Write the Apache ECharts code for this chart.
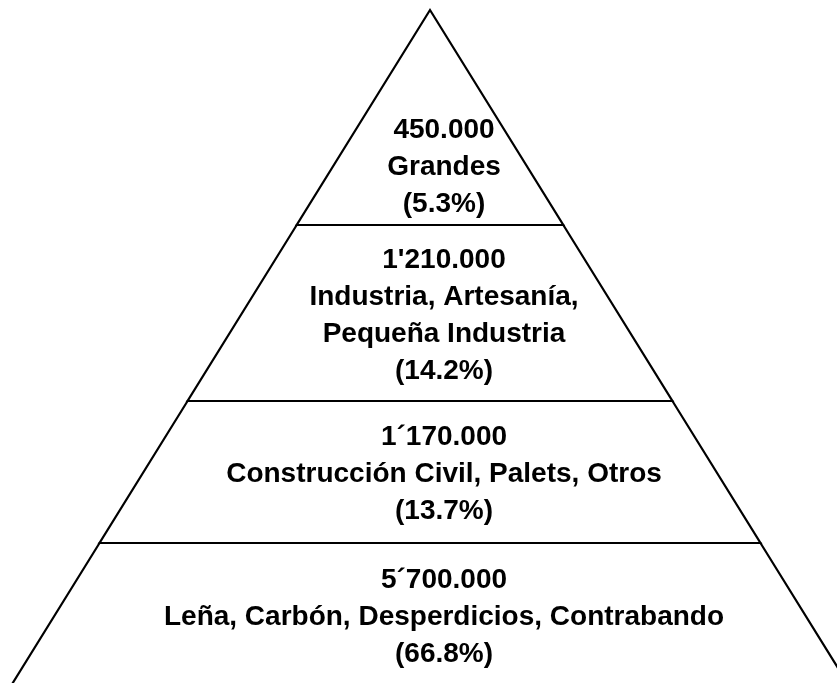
<!DOCTYPE html>
<html>
<head>
<meta charset="utf-8">
<script src="https://cdn.jsdelivr.net/npm/echarts@6/dist/echarts.min.js"></script>
<style>
  html, body { margin: 0; padding: 0; background: #fff; }
  #main { width: 837px; height: 683px; }
</style>
</head>
<body>
<div id="main"></div>
<script>
// pyramid levels, top to bottom
const amounts = ['450.000', "1'210.000", '1´170.000', '5´700.000'];
const sectors = [
    'Grandes',
    'Industria, Artesanía,\nPequeña Industria',
    'Construcción Civil, Palets, Otros',
    'Leña, Carbón, Desperdicios, Contrabando'
];
const shares = ['5.3%', '14.2%', '13.7%', '66.8%'];
// depth of each band's top and bottom edge, measured from the apex
const bandTop = [0, 215, 391, 533];
const bandBottom = [215, 391, 533, 677];

const slope = 0.62; // half width per unit of depth

const myChart = echarts.init(document.getElementById('main'));

const data = amounts.map((a, i) => [i, bandTop[i], bandBottom[i]]);

const renderBand = (params, api) => {
    const i = api.value(0);
    const top = api.value(1);
    const bottom = api.value(2);
    const tl = api.coord([-top * slope, top]);
    const tr = api.coord([top * slope, top]);
    const br = api.coord([bottom * slope, bottom]);
    const bl = api.coord([-bottom * slope, bottom]);
    // top band is a triangle, push its text toward the wider bottom
    const labelDepth = (i === 0 ? top + (bottom - top) * 0.72 : (top + bottom) / 2) + 2.5;
    const c = api.coord([14, labelDepth]);
    return {
        type: 'group',
        children: [
            {
                type: 'polygon',
                shape: { points: [tl, tr, br, bl] },
                style: { fill: '#fff', stroke: '#000', lineWidth: 2.2 }
            },
            {
                type: 'text',
                x: c[0],
                y: c[1],
                style: {
                    text: amounts[i] + '\n' + sectors[i] + '\n(' + shares[i] + ')',
                    fill: '#000',
                    font: 'bold 28px "Liberation Sans", Arial, sans-serif',
                    lineHeight: 37,
                    align: 'center',
                    verticalAlign: 'middle'
                }
            }
        ]
    };
};

const option = {
    animation: false,
    grid: { left: 0, right: 0, top: 0, bottom: 0 },
    xAxis: { type: 'value', min: -430, max: 407, show: false },
    yAxis: { type: 'value', min: -10, max: 673, inverse: true, show: false },
    series: [{
        type: 'custom',
        renderItem: renderBand,
        data: data,
        clip: false
    }]
};
myChart.setOption(option);
</script>
</body>
</html>
